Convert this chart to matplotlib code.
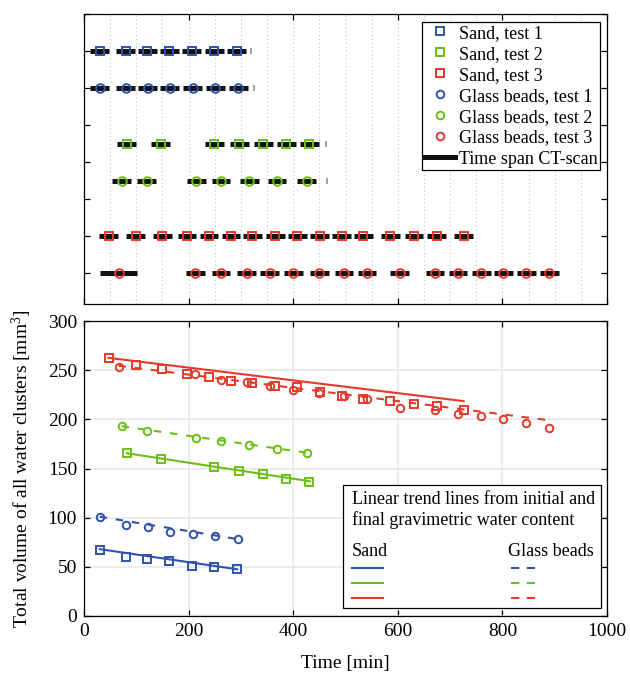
import matplotlib
matplotlib.use("Agg")
import matplotlib.pyplot as plt
from matplotlib.lines import Line2D
from matplotlib.patches import Rectangle
import numpy as np

plt.rcParams['font.family'] = 'serif'
plt.rcParams['font.serif'] = ['Liberation Serif', 'DejaVu Serif']
plt.rcParams['mathtext.fontset'] = 'custom'
plt.rcParams['mathtext.rm'] = 'Liberation Serif'
plt.rcParams['mathtext.it'] = 'Liberation Serif:italic'

# ----------------------------
# data: scan times [min] and total cluster volume [mm3]
# ----------------------------

sand1_t = [30, 80, 121, 163, 206, 249, 292]
sand1_v = [67.5, 60, 58, 55.5, 51, 49.5, 47.5]
glass1_t = [30, 80, 122, 164, 208, 251, 295]
glass1_v = [101, 93, 91, 85.5, 83.5, 81, 78]

sand2_t = [82, 147, 249, 297, 343, 387, 431]
sand2_v = [165.5, 159.5, 152, 147.5, 144, 139.5, 136.5]
glass2_t = [72, 120, 215, 262, 316, 369, 426]
glass2_v = [193, 188.5, 181.5, 178, 174, 170, 166]

sand3_t = [47, 99, 150, 197, 239, 281, 322, 366, 408, 451, 493, 534, 586, 631, 674, 726]
sand3_v = [262, 255.5, 251, 246, 243.5, 239, 236.5, 234, 232.5, 228, 224, 221,
           219, 215.5, 213.5, 209.5]
glass3_t = [66, 213, 262, 311, 355, 400, 450, 497, 541, 604, 671, 715, 760, 802, 846, 890]
glass3_v = [253.5, 246.5, 240.5, 238, 234, 230, 226.5, 224, 220.5, 212, 209.5, 205,
            203.5, 200, 196.5, 191]

# duration of one CT-scan (the first glass beads test 3 scan was longer)
scan_half = 18
glass3_first_scan = (30, 102)

# time of final gravimetric measurement
final_t = {'sand1': 319, 'glass1': 325, 'sand2': 462, 'glass2': 464}

# linear trend lines (initial -> final gravimetric water content)
sand_trend_t = [[30, 293], [82, 432], [47, 726]]
sand_trend_v = [[68, 47.5], [165.5, 137], [262.5, 218.5]]
glass_trend_t = [[30, 296], [72, 427], [66, 890]]
glass_trend_v = [[101, 78], [193, 166], [254.5, 199]]

colors = ['#2f52ab', '#6cbf14', '#e5392c']
sand_t = [sand1_t, sand2_t, sand3_t]
sand_v = [sand1_v, sand2_v, sand3_v]
glass_t = [glass1_t, glass2_t, glass3_t]
glass_v = [glass1_v, glass2_v, glass3_v]

# row of each test in the upper panel
sand_rows = [1, 3.5, 6]
glass_rows = [2, 4.5, 7]

# ----------------------------
# figure
# ----------------------------

fig = plt.figure(figsize=(6.3, 6.74), dpi=100)
ax1 = fig.add_axes([84/630, 1-304/674, 523/630, 290/674])
ax2 = fig.add_axes([84/630, 1-616/674, 523/630, 295/674])

for ax in (ax1, ax2):
    ax.set_xlim(0, 1000)
    ax.tick_params(direction='in', top=True, right=True, length=4, width=0.9,
                   labelsize=14, pad=5)
    for s in ax.spines.values():
        s.set_linewidth(0.9)

# ----------------------------
# upper panel: time spans of the scans
# ----------------------------

ax1.set_ylim(7.83, 0)
ax1.set_yticks(range(0, 8))
ax1.set_yticklabels([])
ax1.set_xticks(range(0, 1001, 200))
ax1.set_xticklabels([])
ax1.set_xticks(np.arange(0, 1001, 50), minor=True)
ax1.tick_params(which='minor', length=0)
ax1.grid(True, which='both', axis='x', color='#c4c4c4', lw=0.8, ls=(0, (1, 2.5)))
ax1.set_axisbelow(True)

handles = []
for i in range(3):
    for kind, ts, row, mk in (('sand', sand_t[i], sand_rows[i], 's'),
                              ('glass', glass_t[i], glass_rows[i], 'o')):
        t = np.array(ts, dtype=float)
        start = t - scan_half
        end = t + scan_half
        if kind == 'glass' and i == 2:
            start[0], end[0] = glass3_first_scan
        ax1.hlines([row]*len(t), start, end, color='#111111', lw=3.6, zorder=2)
        ax1.plot(t, [row]*len(t), mk, ls='none', mfc='none', mec=colors[i],
                 ms=6.2, mew=1.4, zorder=3)
        key = kind + str(i+1)
        if key in final_t:
            ax1.plot(final_t[key], row, '|', color='#9a9a9a', ms=4, mew=1.3, zorder=2)

for i in range(3):
    handles.append(Line2D([], [], marker='s', ls='none', mfc='none', mec=colors[i],
                          ms=5.5, mew=1.4, label='Sand, test %d' % (i+1)))
for i in range(3):
    handles.append(Line2D([], [], marker='o', ls='none', mfc='none', mec=colors[i],
                          ms=5.5, mew=1.4, label='Glass beads, test %d' % (i+1)))
handles.append(Line2D([], [], color='#111111', lw=3.6, label='Time span CT-scan'))

leg = ax1.legend(handles=handles, loc='upper right', bbox_to_anchor=(0.9866, 0.9724),
                 borderaxespad=0, fontsize=13, frameon=True, fancybox=False,
                 edgecolor='black', framealpha=1, handlelength=1.7,
                 handletextpad=0.2, labelspacing=0.22, borderpad=0.15)
leg.get_frame().set_linewidth(0.9)

# ----------------------------
# lower panel: total water cluster volume
# ----------------------------

ax2.set_ylim(0, 300)
ax2.set_xticks(range(0, 1001, 200))
ax2.set_yticks(range(0, 301, 50))
ax2.grid(True, color='#e6e6e6', lw=1.1)
ax2.set_axisbelow(True)

for i in range(3):
    ax2.plot(sand_trend_t[i], sand_trend_v[i], '-', color=colors[i], lw=1.5, zorder=3)
    ax2.plot(glass_trend_t[i], glass_trend_v[i], color=colors[i], lw=1.5,
             ls=(0, (3.6, 4.2)), zorder=3)
    ax2.plot(sand_t[i], sand_v[i], 's', ls='none', mfc='none', mec=colors[i],
             ms=5.2, mew=1.4, zorder=4)
    ax2.plot(glass_t[i], glass_v[i], 'o', ls='none', mfc='none', mec=colors[i],
             ms=5.4, mew=1.4, zorder=4)

ax2.set_xlabel('Time [min]', fontsize=14, labelpad=11)
ax2.set_ylabel('Total volume of all water clusters [mm$^3$]', fontsize=14, labelpad=10)

# legend box for the trend lines
tr = ax2.transAxes
ax2.add_patch(Rectangle((0.495, 0.027), 0.4935, 0.417, transform=tr, fc='white',
                        ec='black', lw=0.9, zorder=6))
ax2.text(0.512, 0.396, 'Linear trend lines from initial and', transform=tr,
         fontsize=13, va='center', ha='left', zorder=7)
ax2.text(0.512, 0.325, 'final gravimetric water content', transform=tr,
         fontsize=13, va='center', ha='left', zorder=7)
ax2.text(0.512, 0.220, 'Sand', transform=tr, fontsize=13, va='center', ha='left', zorder=7)
ax2.text(0.811, 0.220, 'Glass beads', transform=tr, fontsize=13, va='center',
         ha='left', zorder=7)
for i, yy in enumerate([0.1637, 0.113, 0.060]):
    ax2.add_line(Line2D([0.512, 0.572], [yy, yy], transform=tr, color=colors[i],
                        lw=1.5, zorder=7))
    ax2.add_line(Line2D([0.816, 0.862], [yy, yy], transform=tr, color=colors[i],
                        lw=1.5, ls=(0, (4, 3.6)), zorder=7))

fig.savefig('out.png', dpi=100)
